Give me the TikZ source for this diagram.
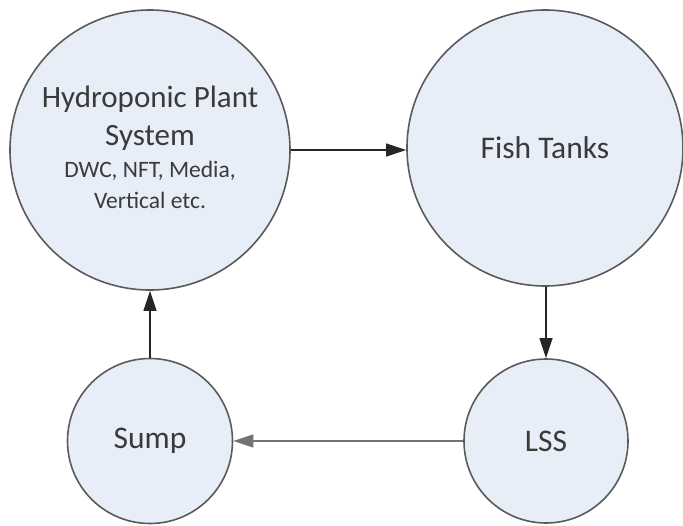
\documentclass[tikz,border=0pt]{standalone}
\usepackage{fontspec}
\setmainfont{Carlito}
\usetikzlibrary{arrows.meta}
\definecolor{circfill}{HTML}{E8EEF8}
\definecolor{circline}{HTML}{5A5A5A}
\definecolor{txt}{HTML}{3A3A3A}
\begin{document}
\begin{tikzpicture}[x=1pt,y=-1pt,
  stage/.style={circle,draw=circline,line width=1.6pt,fill=circfill,text=txt,align=center,inner sep=0pt},
  big/.style={text=txt,inner sep=0pt,anchor=base,font=\fontsize{31}{38}\selectfont},
  small/.style={text=txt,inner sep=0pt,anchor=base,font=\fontsize{23.5}{31}\selectfont},
  flow/.style={draw=black!85,line width=1.3pt,-{Triangle[length=20pt,width=13pt]}}]
\useasboundingbox (0,0) rectangle (683,525);
\node[stage,minimum size=280pt] (hyd) at (150,150) {};
\node[big] (hydA) at (150,107) {Hydroponic Plant};
\node[big] (hydB) at (150,145) {System};
\node[small] (hydC) at (150,177) {DWC, NFT, Media,};
\node[small] (hydD) at (150,208) {Vertical etc.};
\node[stage,minimum size=276pt,font=\fontsize{31.5}{38}\selectfont] (fish) at (545,148) {Fish Tanks};
\node[stage,minimum size=165pt,font=\fontsize{31.5}{38}\selectfont] (sump) at (150,441) {Sump};
\node[stage,minimum size=164pt,font=\fontsize{31.5}{38}\selectfont] (lss) at (546,441) {LSS};
\draw[flow] (hyd.east) -- (fish.west |- hyd.east);
\draw[flow] (fish.south -| lss.north) -- (lss.north);
\draw[flow,draw=black!55] (lss.west) -- (sump.east);
\draw[flow] (sump.north) -- (hyd.south);
\end{tikzpicture}
\end{document}
